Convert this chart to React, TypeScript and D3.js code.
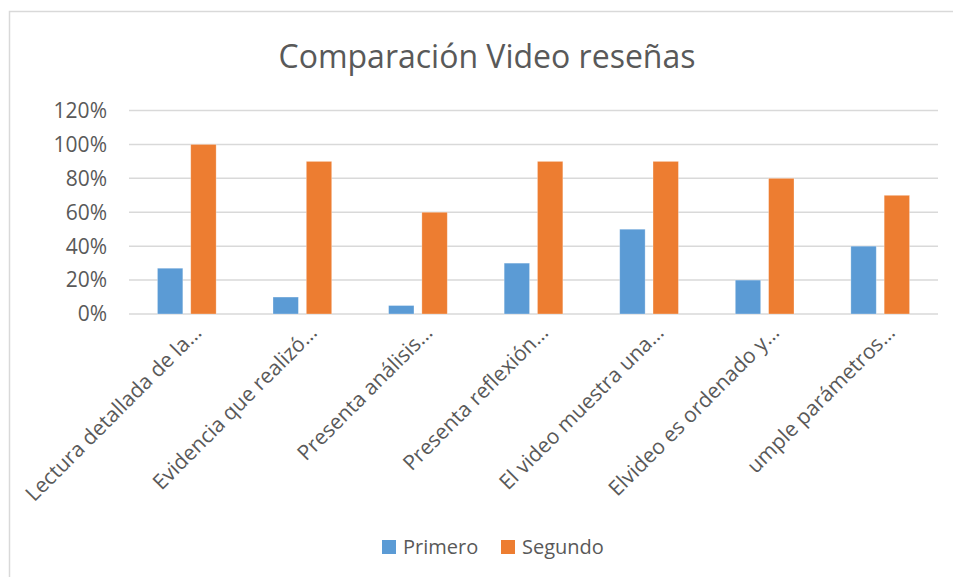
import React from "react";
import * as d3 from "d3";

const categories = [
  "Lectura detallada de la…",
  "Evidencia que realizó…",
  "Presenta análisis…",
  "Presenta reflexión…",
  "El video muestra una…",
  "Elvideo es ordenado y…",
  "umple parámetros…",
];
const series = ["Primero", "Segundo"];
const primero = [0.27, 0.1, 0.05, 0.3, 0.5, 0.2, 0.4];
const segundo = [1.0, 0.9, 0.6, 0.9, 0.9, 0.8, 0.7];
const yTicks = [0, 0.2, 0.4, 0.6, 0.8, 1.0, 1.2];
const colors = ["#5B9BD5", "#ED7D31"];

const W = 953;
const H = 577;
const font = "'Open Sans', sans-serif";
const textColor = "#595959";

export default function App() {
  const x0 = d3.scaleBand().domain(categories).range([129, 938]);
  const bw = x0.bandwidth();
  const gw = bw * 0.508;
  const x1 = d3
    .scaleBand()
    .domain(series)
    .range([(bw - gw) / 2, (bw + gw) / 2])
    .paddingInner(0.237);
  const y = d3.scaleLinear().domain([0, 1.2]).range([314, 110.5]);
  const values = [primero, segundo];
  const fmt = d3.format(".0%");

  return (
    <svg
      width={W}
      height={H}
      style={{ position: "fixed", left: 0, top: 0, background: "#fff" }}
    >
      <rect x={0} y={0} width={W} height={H} fill="#fff" />
      <rect x={9.5} y={11.5} width={W + 20} height={H + 20} fill="none" stroke="#d9d9d9" strokeWidth={1.5} />

      <text x={487} y={68} textAnchor="middle" fontFamily={font} fontSize={32} fill={textColor}>
        Comparación Video reseñas
      </text>

      {/* gridlines + y labels */}
      {yTicks.map((t) => (
        <g key={t}>
          <line x1={129} x2={938} y1={y(t)} y2={y(t)} stroke="#d9d9d9" strokeWidth={1.5} />
          <text
            x={107}
            y={y(t)}
            dy="0.35em"
            textAnchor="end"
            fontFamily={font}
            fontSize={21}
            fill={textColor}
          >
            {fmt(t)}
          </text>
        </g>
      ))}

      {/* bars */}
      {categories.map((c, i) => (
        <g key={c} transform={`translate(${x0(c)},0)`}>
          {series.map((s, j) => (
            <rect
              key={s}
              x={x1(s)}
              y={y(values[j][i])}
              width={x1.bandwidth()}
              height={y(0) - y(values[j][i])}
              fill={colors[j]}
              stroke="#fff"
              strokeOpacity={0.4}
              strokeWidth={0.75}
            />
          ))}
        </g>
      ))}

      {/* category labels */}
      {categories.map((c) => {
        const cx = (x0(c) as number) + bw / 2 + 16;
        return (
          <text
            key={c}
            transform={`translate(${cx},334) rotate(-45)`}
            textAnchor="end"
            fontFamily={font}
            fontSize={21}
            fill={textColor}
          >
            {c}
          </text>
        );
      })}

      {/* legend */}
      {series.map((s, j) => {
        const lx = [382, 501][j];
        return (
          <g key={s}>
            <rect x={lx} y={540} width={14} height={14} fill={colors[j]} />
            <text x={lx + 21} y={547} dy="0.35em" fontFamily={font} fontSize={20} fill={textColor}>
              {s}
            </text>
          </g>
        );
      })}
    </svg>
  );
}
